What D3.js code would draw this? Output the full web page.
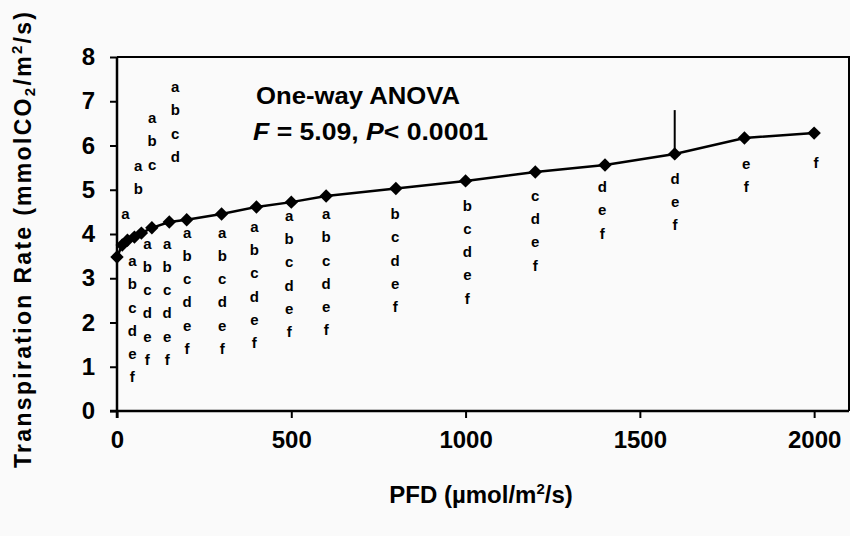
<!DOCTYPE html>
<html>
<head>
<meta charset="utf-8">
<script src="https://cdn.jsdelivr.net/npm/d3@7"></script>
<style>
  html, body { margin: 0; padding: 0; background: #fafafa; }
  svg { display: block; }
</style>
</head>
<body>
<svg id="chart" width="850" height="536"></svg>
<script>
// ---- Data ----
const pfd = [0, 15, 30, 50, 70, 100, 150, 200, 300, 400, 500, 600, 800, 1000, 1200, 1400, 1600, 1800, 2000];
const rate = [3.48, 3.75, 3.86, 3.93, 4.02, 4.14, 4.27, 4.32, 4.45, 4.61, 4.72, 4.86, 5.03, 5.20, 5.40, 5.56, 5.81, 6.17, 6.28];
// error bar (upper) only at 1600
const errUpper = [0, 0, 0, 0, 0, 0, 0, 0, 0, 0, 0, 0, 0, 0, 0, 0, 0.99, 0, 0];
// significance letter groups for each point
const letters = ["a", "ab", "abc", "abcd", "abcdef", "abcdef", "abcdef", "abcdef", "abcdef", "abcdef", "abcdef", "abcdef",
                 "bcdef", "bcdef", "cdef", "def", "def", "ef", "f"];
// where each letter group is anchored (PFD, rate of first letter)
const letterX = [24, 61, 101, 167, 44, 87, 144, 201, 302, 394, 494, 600, 798, 1005, 1200, 1392, 1601, 1805, 2005];
const letterY = [4.47, 5.56, 6.64, 7.34, 3.41, 3.80, 3.80, 4.05, 4.05, 4.18, 4.43, 4.47, 4.47, 4.66, 4.88, 5.08, 5.27, 5.60, 5.63];
const xTicks = [0, 500, 1000, 1500, 2000];
const yTicks = [0, 1, 2, 3, 4, 5, 6, 7, 8];

// ---- Layout ----
const svg = d3.select("#chart");
const x = d3.scaleLinear().domain([0, 2100]).range([117, 849]);
const y = d3.scaleLinear().domain([0, 8]).range([411, 57]);
const sans = "'Liberation Sans', Arial, sans-serif";

// plot frame (top and right)
svg.append("path")
  .attr("d", `M${x(0)},${y(8)} H${x(2100)} V${y(0)}`)
  .attr("fill", "none").attr("stroke", "#000").attr("stroke-width", 2);

// axes
const yAxis = d3.axisLeft(y).tickValues(yTicks).tickSize(7).tickPadding(15).tickFormat(d3.format("d"));
const gy = svg.append("g").attr("transform", `translate(${x(0)},0)`).call(yAxis);
gy.select(".domain").attr("stroke-width", 2.5).attr("d", `M0,${y(8)}V${y(0) + 7}`);
gy.selectAll(".tick line").attr("stroke-width", 2);
gy.selectAll(".tick text").attr("font-family", sans).attr("font-weight", "bold").attr("font-size", 24).attr("fill", "#000");

const xAxis = d3.axisBottom(x).tickValues(xTicks).tickSize(7).tickPadding(13).tickFormat(d3.format("d"));
const gx = svg.append("g").attr("transform", `translate(0,${y(0)})`).call(xAxis);
gx.select(".domain").attr("stroke-width", 2.5).attr("d", `M${x(0) - 7},0H${x(2100)}`);
gx.selectAll(".tick line").attr("stroke-width", 2);
gx.selectAll(".tick text").attr("font-family", sans).attr("font-weight", "bold").attr("font-size", 24).attr("fill", "#000");

// error bar
pfd.forEach((p, i) => {
  if (errUpper[i] > 0) {
    svg.append("line")
      .attr("x1", x(p)).attr("x2", x(p))
      .attr("y1", y(rate[i])).attr("y2", y(rate[i] + errUpper[i]))
      .attr("stroke", "#000").attr("stroke-width", 2);
  }
});

// line
const line = d3.line().x((d, i) => x(pfd[i])).y(d => y(d));
svg.append("path").datum(rate).attr("d", line)
  .attr("fill", "none").attr("stroke", "#000").attr("stroke-width", 2.5);

// diamonds
svg.selectAll(".pt").data(rate).enter().append("path")
  .attr("class", "pt")
  .attr("d", d3.symbol().type(d3.symbolDiamond2).size(115))
  .attr("transform", (d, i) => `translate(${x(pfd[i])},${y(d)})`)
  .attr("fill", "#000");

// letters
letters.forEach((s, i) => {
  const t = svg.append("text")
    .attr("x", x(letterX[i])).attr("y", y(letterY[i]))
    .attr("text-anchor", "middle")
    .attr("dominant-baseline", "central")
    .attr("font-family", sans).attr("font-weight", "bold").attr("font-size", 15).attr("fill", "#000");
  s.split("").forEach((c, k) => {
    t.append("tspan").attr("x", x(letterX[i])).attr("dy", k === 0 ? 0 : 23.2).text(c);
  });
});

// ANOVA annotation
svg.append("text").attr("x", 256).attr("y", 104)
  .attr("font-family", sans).attr("font-weight", "bold").attr("font-size", 23)
  .attr("textLength", 204).attr("lengthAdjust", "spacingAndGlyphs").attr("fill", "#000")
  .text("One-way ANOVA");
const t2 = svg.append("text").attr("x", 253).attr("y", 140)
  .attr("font-family", sans).attr("font-weight", "bold").attr("font-size", 23)
  .attr("textLength", 235).attr("lengthAdjust", "spacingAndGlyphs").attr("fill", "#000");
t2.append("tspan").attr("font-style", "italic").text("F");
t2.append("tspan").text(" = 5.09, ");
t2.append("tspan").attr("font-style", "italic").text("P");
t2.append("tspan").text("< 0.0001");

// x axis title
const xt = svg.append("text").attr("x", 481).attr("y", 503)
  .attr("text-anchor", "middle")
  .attr("font-family", sans).attr("font-weight", "bold").attr("font-size", 24).attr("fill", "#000");
xt.append("tspan").text("PFD (µmol/m");
xt.append("tspan").attr("dy", -9).attr("font-size", 15).text("2");
xt.append("tspan").attr("dy", 9).text("/s)");

// y axis title
const yt = svg.append("text")
  .attr("transform", "translate(31,240) rotate(-90)")
  .attr("text-anchor", "middle")
  .attr("font-family", sans).attr("font-weight", "bold").attr("font-size", 23)
  .attr("textLength", 456).attr("lengthAdjust", "spacing").attr("fill", "#000");
yt.append("tspan").text("Transpiration  Rate  (mmolCO");
yt.append("tspan").attr("dy", 4).attr("font-size", 15).text("2");
yt.append("tspan").attr("dy", -4).text("/m");
yt.append("tspan").attr("dy", -9).attr("font-size", 15).text("2");
yt.append("tspan").attr("dy", 9).text("/s)");
</script>
</body>
</html>
